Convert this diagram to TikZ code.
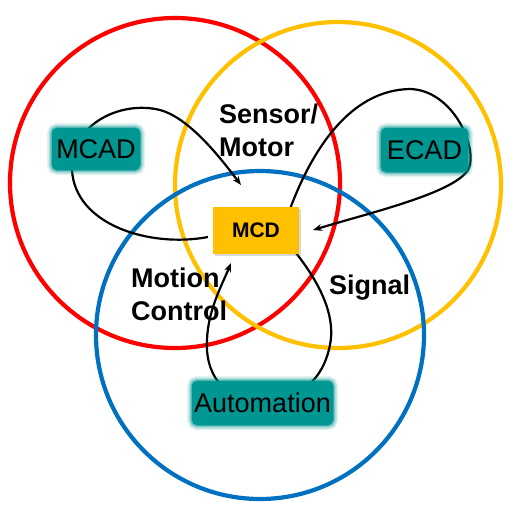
\documentclass[tikz,border=0pt]{standalone}
\usepackage{fontspec}
\setmainfont{Liberation Sans}
\usetikzlibrary{arrows.meta,shadows}
\definecolor{vred}{RGB}{255,0,0}
\definecolor{vyellow}{RGB}{255,192,0}
\definecolor{vblue}{RGB}{0,112,192}
\definecolor{vteal}{RGB}{0,150,145}
\pgfdeclarelayer{back}
\pgfdeclarelayer{front}
\pgfsetlayers{back,main,front}
\begin{document}
\begin{tikzpicture}[x=1pt,y=-1pt,
  ring/.style={line width=4.2pt},
  link/.style={line width=2.2pt, black},
  tip/.style={-{Stealth[length=9pt,width=7pt]}},
  tool/.style={fill=vteal, rounded corners=5pt, inner sep=0pt,
    preaction={draw=vteal, line width=10pt, opacity=0.12},
    preaction={draw=vteal, line width=7pt, opacity=0.2},
    preaction={draw=vteal, line width=4pt, opacity=0.3},
    preaction={draw=vteal, line width=1.5pt, opacity=0.5},
    font=\fontsize{27}{32}\selectfont},
  mcdbox/.style={fill=vyellow, inner sep=0pt, minimum width=86pt, minimum height=47pt,
    drop shadow={shadow xshift=1.5pt, shadow yshift=-1.5pt, opacity=0.3},
    font=\bfseries\fontsize{21}{25}\selectfont},
  area/.style={font=\bfseries\fontsize{27}{33}\selectfont, align=left, inner sep=0pt}
]
\useasboundingbox (0,0) rectangle (515,515);
\begin{pgfonlayer}{back}
\fill[white] (0,0) rectangle (515,515);
\draw[ring, vred] (175,183) circle[radius=165];
\draw[ring, vyellow] (338,185) circle[radius=163];
\draw[ring, vblue] (260,335) circle[radius=164];
\end{pgfonlayer}

\begin{pgfonlayer}{front}
\node[mcdbox] (mcd) at (256,230.5) {MCD};
\node[tool, minimum width=88pt, minimum height=42pt] (mcad) at (96,149) {MCAD};
\node[tool, minimum width=87pt, minimum height=44pt] (ecad) at (424.5,150) {ECAD};
\node[tool, minimum width=141pt, minimum height=44pt] (auto) at (262.5,403) {Automation};
\node[area, anchor=base west] (sm) at (219,156) {Sensor/\\Motor};
\node[area, anchor=base west] (mc) at (131,320) {Motion\\Control};
\node[area, anchor=base west] (sig) at (329,294) {Signal};
\end{pgfonlayer}

\coordinate (a0) at (208,237);
\coordinate (a1) at (241,185);
\coordinate (b0) at (290,209);
\coordinate (b1) at (313,230);
\coordinate (c0) at (296,253);
\coordinate (c1) at (231,263);

\draw[link, tip] (a0) .. controls (150,248) and (75,225) .. (72,170)
  .. controls (70,125) and (120,100) .. (160,110)
  .. controls (190,118) and (222,160) .. (a1);
\draw[link, tip] (b0) .. controls (312,150) and (350,90) .. (410,89)
  .. controls (450,90) and (475,140) .. (470,165)
  .. controls (465,190) and (380,210) .. (b1);
\draw[link, tip] (c0) .. controls (325,290) and (335,320) .. (330,345)
  .. controls (325,370) and (310,398) .. (265,400)
  .. controls (220,402) and (205,370) .. (207,340)
  .. controls (208,310) and (222,285) .. (c1);
\end{tikzpicture}
\end{document}
